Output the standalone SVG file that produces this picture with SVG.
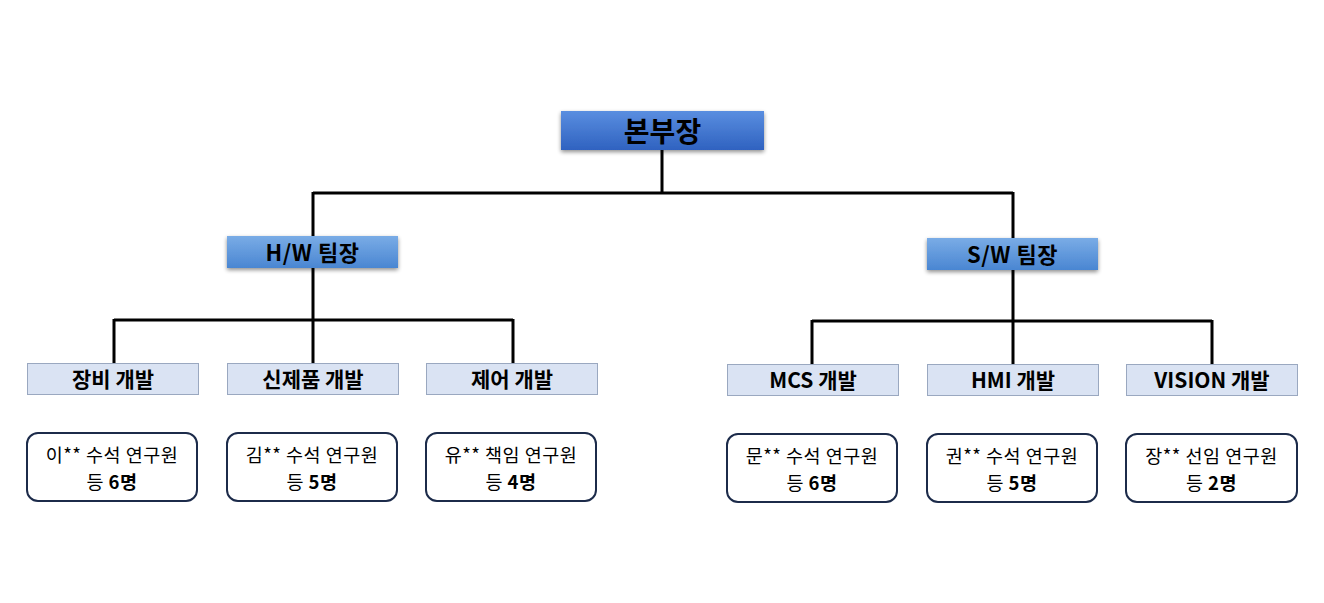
<svg xmlns="http://www.w3.org/2000/svg" width="1324" height="603" viewBox="0 0 1324 603">
<defs>
<linearGradient id="gTop" x1="0" y1="0" x2="0" y2="1">
<stop offset="0" stop-color="#5a8ee0"/>
<stop offset="1" stop-color="#2f62c0"/>
</linearGradient>
<linearGradient id="gMid" x1="0" y1="0" x2="0" y2="1">
<stop offset="0" stop-color="#7aace6"/>
<stop offset="1" stop-color="#4a86d2"/>
</linearGradient>
<filter id="sh" x="-10%" y="-20%" width="120%" height="150%">
<feGaussianBlur in="SourceAlpha" stdDeviation="2"/>
<feOffset dx="0" dy="2" result="b"/>
<feComponentTransfer><feFuncA type="linear" slope="0.45"/></feComponentTransfer>
<feMerge><feMergeNode/><feMergeNode in="SourceGraphic"/></feMerge>
</filter>
</defs>
<style>
.t{font-family:"Malgun Gothic","Noto Sans CJK KR",sans-serif;fill:#000;text-anchor:middle}
.b{font-weight:bold}
.sub{fill:#dae3f3;stroke:#9aa8c0;stroke-width:1}
.mem{fill:#fff;stroke:#1c2b4a;stroke-width:2}
.ln{fill:none;stroke:#000;stroke-width:3}
.st{font-size:21px}
.mt{font-size:18.5px;letter-spacing:0.5px}
</style>
<rect width="1324" height="603" fill="#fff"/>
<g id="connectors">
<path class="ln" d="M662 150V193M313 193H1013M313 192V236M1013 192V238"/>
<path class="ln" d="M313 268V320M114 320H513M114 319V363M313 319V363M513 319V363"/>
<path class="ln" d="M1013 270V321M812 321H1212M812 320V364M1013 320V364M1212 320V364"/>
</g>
<g id="n-top">
<rect x="561" y="111" width="203" height="39" fill="url(#gTop)" filter="url(#sh)"/>
<text class="t b" x="662.5" y="142" font-size="28">본부장</text>
</g>
<g id="n-hw">
<rect x="227" y="236" width="171" height="32" fill="url(#gMid)" filter="url(#sh)"/>
<text class="t b" x="312.5" y="261" font-size="22" letter-spacing="0.5">H/W 팀장</text>
</g>
<g id="n-sw">
<rect x="927" y="238" width="171" height="32" fill="url(#gMid)" filter="url(#sh)"/>
<text class="t b" x="1012.5" y="263" font-size="22" letter-spacing="0.5">S/W 팀장</text>
</g>
<g id="n-equip">
<rect class="sub" x="27.5" y="363.5" width="171" height="31"/>
<text class="t b st" x="113" y="387">장비 개발</text>
</g>
<g id="n-newprod">
<rect class="sub" x="227.5" y="363.5" width="171" height="31"/>
<text class="t b st" x="313" y="387">신제품 개발</text>
</g>
<g id="n-ctrl">
<rect class="sub" x="426.5" y="363.5" width="171" height="31"/>
<text class="t b st" x="512" y="387">제어 개발</text>
</g>
<g id="n-mcs">
<rect class="sub" x="727.5" y="364.5" width="171" height="31"/>
<text class="t b st" x="813" y="388">MCS 개발</text>
</g>
<g id="n-hmi">
<rect class="sub" x="927.5" y="364.5" width="171" height="31"/>
<text class="t b st" x="1013" y="388">HMI 개발</text>
</g>
<g id="n-vision">
<rect class="sub" x="1126.5" y="364.5" width="171" height="31"/>
<text class="t b st" x="1212" y="388">VISION 개발</text>
</g>
<g id="m-equip">
<rect class="mem" x="27" y="433" width="170" height="68" rx="11"/>
<text class="t mt" x="112" y="462">이** 수석 연구원</text>
<text class="t mt" x="112" y="489">등 <tspan class="b">6명</tspan></text>
</g>
<g id="m-newprod">
<rect class="mem" x="227" y="433" width="170" height="68" rx="11"/>
<text class="t mt" x="312" y="462">김** 수석 연구원</text>
<text class="t mt" x="312" y="489">등 <tspan class="b">5명</tspan></text>
</g>
<g id="m-ctrl">
<rect class="mem" x="426" y="433" width="170" height="68" rx="11"/>
<text class="t mt" x="511" y="462">유** 책임 연구원</text>
<text class="t mt" x="511" y="489">등 <tspan class="b">4명</tspan></text>
</g>
<g id="m-mcs">
<rect class="mem" x="727" y="434" width="170" height="68" rx="11"/>
<text class="t mt" x="812" y="463">문** 수석 연구원</text>
<text class="t mt" x="812" y="490">등 <tspan class="b">6명</tspan></text>
</g>
<g id="m-hmi">
<rect class="mem" x="927" y="434" width="170" height="68" rx="11"/>
<text class="t mt" x="1012" y="463">권** 수석 연구원</text>
<text class="t mt" x="1012" y="490">등 <tspan class="b">5명</tspan></text>
</g>
<g id="m-vision">
<rect class="mem" x="1126" y="434" width="171" height="68" rx="11"/>
<text class="t mt" x="1211.5" y="463">장** 선임 연구원</text>
<text class="t mt" x="1211.5" y="490">등 <tspan class="b">2명</tspan></text>
</g>
</svg>
